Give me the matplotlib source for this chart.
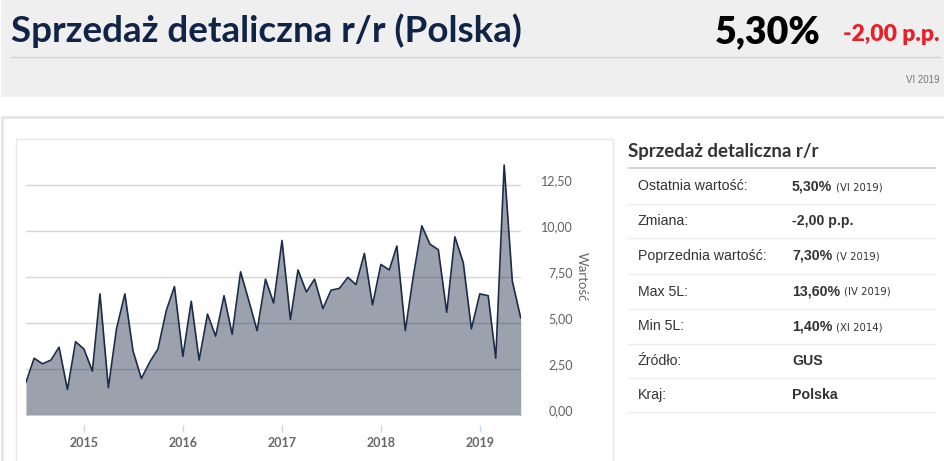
import numpy as np
import pandas as pd
import matplotlib
matplotlib.use('Agg')
import matplotlib.pyplot as plt
from matplotlib.patches import Rectangle
from matplotlib.lines import Line2D
from matplotlib.transforms import ScaledTranslation

# retail sales y/y, monthly, VI 2014 - VI 2019
start_month = '2014-06-01'
values = [1.8, 3.1, 2.8, 3.0, 3.7, 1.4, 4.0,
          3.6, 2.4, 6.6, 1.5, 4.7, 6.6, 3.5, 2.0, 2.9, 3.6, 5.7, 7.0,
          3.2, 6.2, 3.0, 5.5, 4.3, 6.5, 4.4, 7.8, 6.2, 4.6, 7.4, 6.1,
          9.5, 5.2, 7.9, 6.7, 7.4, 5.8, 6.8, 6.9, 7.5, 7.1, 8.8, 6.0,
          8.2, 7.9, 9.2, 4.6, 7.6, 10.3, 9.3, 9.0, 5.6, 9.7, 8.3, 4.7,
          6.6, 6.5, 3.1, 13.6, 7.3, 5.3]
years = [2015, 2016, 2017, 2018, 2019]
y_ticks = [0, 2.5, 5, 7.5, 10, 12.5]
y_tick_labels = ['0,00', '2,50', '5,00', '7,50', '10,00', '12,50']

title = 'Sprzedaż detaliczna r/r (Polska)'
last_value = '5,30%'
change = '-2,00 p.p.'
period = 'VI 2019'

table_title = 'Sprzedaż detaliczna r/r'
row_labels = ['Ostatnia wartość:', 'Zmiana:', 'Poprzednia wartość:', 'Max 5L:',
              'Min 5L:', 'Źródło:', 'Kraj:']
row_values = ['5,30%', '-2,00 p.p.', '7,30%', '13,60%', '1,40%', 'GUS', 'Polska']
row_notes = ['(VI 2019)', '', '(V 2019)', '(IV 2019)', '(XI 2014)', '', '']

W, H = 945, 461
NAVY = '#1b2b48'


def fx(x):
    return x / W


def fy(y):
    return 1 - y / H


fig = plt.figure(figsize=(W / 100, H / 100), dpi=100)
fig.patch.set_facecolor('white')

# header band
fig.patches.append(Rectangle((fx(1), fy(96.5)), fx(944), 96.5 / H,
                             transform=fig.transFigure, facecolor='#efefef',
                             edgecolor='none', zorder=0))
fig.lines.append(Line2D([fx(11), fx(940)], [fy(57.5), fy(57.5)],
                        transform=fig.transFigure, color='#d3d3d3', lw=1))
fig.text(fx(11), fy(42), title, fontsize=26.5, family='Lato', weight='bold',
         color='#0f2447', va='baseline', ha='left')
fig.text(fx(940), fy(41), change, fontsize=16.5, family='Lato', weight='heavy',
         color='#e8202a', va='baseline', ha='right')
fig.text(fx(821), fy(43), last_value, fontsize=27, family='Lato', weight='heavy',
         color='black', va='baseline', ha='right')
fig.text(fx(940), fy(80), period, fontsize=7, family='Liberation Sans',
         color='#777777', va='center', ha='right')

# panels
fig.patches.append(Rectangle((fx(2), fy(470)), fx(945), (470 - 117) / H,
                             transform=fig.transFigure, facecolor='none',
                             edgecolor='#e6e6e6', lw=2, zorder=0))
fig.patches.append(Rectangle((fx(16), fy(470)), fx(597), (470 - 139) / H,
                             transform=fig.transFigure, facecolor='none',
                             edgecolor='#e8e8e8', lw=1, zorder=0))

# chart
y_top = 13.75
px_per_unit = 18.4
ax_bottom, ax_top = 415.3, 415.3 - y_top * px_per_unit
ax = fig.add_axes([fx(26), fy(ax_bottom), (520.7 - 26) / W, (ax_bottom - ax_top) / H])
dates = pd.date_range(start_month, periods=len(values), freq='MS')
ax.fill_between(dates, values, 0, color=NAVY, alpha=0.44, lw=0, zorder=2)
ax.plot(dates, values, color=NAVY, lw=1.2, zorder=3)
ax.set_xlim(dates[0], dates[-1])
ax.set_ylim(0, y_top)
ax.set_axisbelow(True)
ax.grid(axis='y', color='#d6d6d6', lw=1)
ax.grid(axis='x', visible=False)
for s in ['top', 'left', 'right']:
    ax.spines[s].set_visible(False)
ax.spines['bottom'].set_color('#cccccc')
ax.set_facecolor('none')

ax.set_yticks(y_ticks)
ax.set_yticklabels(y_tick_labels)
ax.yaxis.tick_right()
ax.tick_params(axis='y', length=0, pad=(573 - 520.7) * 0.72, labelsize=9,
               labelcolor='#606060')
for lab in ax.get_yticklabels():
    lab.set_horizontalalignment('right')
    lab.set_family('Lato')
    lab.set_transform(lab.get_transform() + ScaledTranslation(0, 5 / 100, fig.dpi_scale_trans))
ax.yaxis.set_label_position('right')
ax.set_ylabel('Wartość', rotation=270, color='#666666', fontsize=9.5, family='Lato')
ax.yaxis.set_label_coords((588 - 26) / (520.7 - 26), (ax_bottom - 277) / (ax_bottom - ax_top))

ax.set_xticks([])
year_dates = pd.to_datetime([f'{y}-01-01' for y in years])
sec = ax.secondary_xaxis(-(425 - ax_bottom) / (ax_bottom - ax_top))
sec.set_xticks(year_dates)
sec.set_xticklabels([str(y) for y in years])
sec.spines['bottom'].set_visible(False)
sec.tick_params(axis='x', length=5, width=1, color='#ccd6eb', pad=3.5,
                labelsize=9, labelcolor='#666666')
for lab in sec.get_xticklabels():
    lab.set_family('Lato')
    lab.set_weight('bold')

# side table
fig.text(fx(628), fy(151), table_title, fontsize=13.4, family='Lato', weight='bold',
         color='#333333', va='center', ha='left')
fig.lines.append(Line2D([fx(628), fx(935)], [fy(168), fy(168)],
                        transform=fig.transFigure, color='#cfcfcf', lw=1.2))
row_y = [186.5, 221, 256, 291.5, 326.5, 360.5, 395]
sep_y = [204, 238.5, 273.5, 309, 343.5, 377.5, 411.5]
fig.canvas.draw()
renderer = fig.canvas.get_renderer()
for lab, val, note, y in zip(row_labels, row_values, row_notes, row_y):
    fig.text(fx(638), fy(y), lab, fontsize=10.2, family='Liberation Sans',
             color='#333333', va='center', ha='left')
    t = fig.text(fx(792), fy(y), val, fontsize=10.2, family='Liberation Sans',
                 weight='bold', color='#333333', va='center', ha='left')
    if note:
        bb = t.get_window_extent(renderer=renderer)
        fig.text(fx(bb.x1 + 4), fy(y + 0.5), note, fontsize=7.3,
                 family='Liberation Sans Narrow', color='#333333',
                 va='center', ha='left')
for y in sep_y:
    fig.lines.append(Line2D([fx(628), fx(935)], [fy(y), fy(y)],
                            transform=fig.transFigure, color='#ececec', lw=1))

fig.savefig('out.png', dpi=100)
